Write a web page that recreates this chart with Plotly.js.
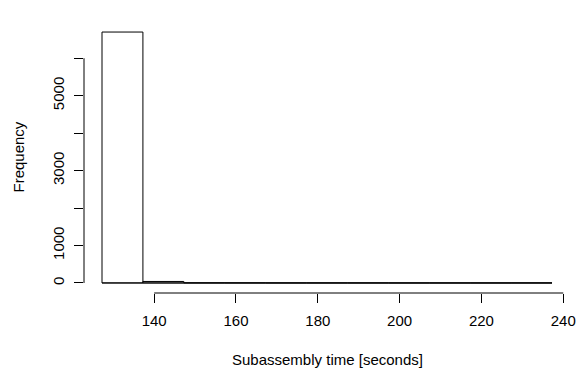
<!DOCTYPE html>
<html>
<head>
<script src="https://cdn.plot.ly/plotly-3.0.1.min.js"></script>
<style>body{margin:0;padding:0;background:#fff;}#chart{width:582px;height:371px;}</style>
</head>
<body>
<div id="chart"></div>
<script>
// Histogram data (bins of width 10)
var binStarts = [127.25, 137.25, 147.25, 157.25, 167.25, 177.25, 187.25, 197.25, 207.25, 217.25, 227.25];
var binWidth = 10;
var counts = [6700, 40, 3, 2, 1, 1, 1, 0, 0, 0, 1];
var xTicks = [140, 160, 180, 200, 220, 240];
var yTicks = [0, 1000, 2000, 3000, 4000, 5000, 6000];
var yTickLabels = ['0', '1000', '', '3000', '', '5000', ''];

var centers = binStarts.map(function(s){ return s + binWidth / 2; });

var trace = {
  type: 'bar',
  x: centers,
  y: counts,
  width: binWidth,
  marker: {color: '#ffffff', line: {color: '#000000', width: 1}},
  hoverinfo: 'none'
};

var font = {family: 'Liberation Sans, Arial, sans-serif', size: 15, color: '#000'};

var layout = {
  width: 582, height: 371,
  margin: {l: 84, r: 12, t: 22, b: 78},
  paper_bgcolor: '#fff', plot_bgcolor: '#fff',
  showlegend: false,
  bargap: 0,
  font: font,
  xaxis: {
    range: [122.85, 241.65],
    tickvals: xTicks,
    ticktext: xTicks.map(String),
    ticks: 'outside', ticklen: 9, tickwidth: 1, tickcolor: '#000',
    showgrid: false, zeroline: false, showline: false,
    ticklabelstandoff: 5,
    tickfont: font
  },
  yaxis: {
    range: [-268, 6968],
    tickvals: yTicks,
    ticktext: yTickLabels,
    tickangle: -90,
    ticks: 'outside', ticklen: 9, tickwidth: 1, tickcolor: '#000',
    showgrid: false, zeroline: false, showline: false,
    ticklabelstandoff: 4,
    tickfont: font
  },
  shapes: [
    {type: 'line', xref: 'x', yref: 'paper', x0: xTicks[0], x1: xTicks[xTicks.length-1], y0: 0, y1: 0, line: {color: '#000', width: 1}},
    {type: 'line', xref: 'paper', yref: 'y', x0: 0, x1: 0, y0: yTicks[0], y1: yTicks[yTicks.length-1], line: {color: '#000', width: 1}},
    {type: 'line', xref: 'x', yref: 'y', x0: binStarts[0], x1: binStarts[binStarts.length-1] + binWidth, y0: 0, y1: 0, line: {color: '#000', width: 1}}
  ],
  annotations: [
    {text: 'Subassembly time [seconds]', xref: 'paper', yref: 'paper', x: 0.5, y: 0, yshift: -66, showarrow: false, font: font, xanchor: 'center', yanchor: 'middle'},
    {text: 'Frequency', xref: 'paper', yref: 'paper', x: 0, y: 0.5, xshift: -66, showarrow: false, font: font, textangle: -90, xanchor: 'center', yanchor: 'middle'}
  ]
};

Plotly.newPlot('chart', [trace], layout, {displayModeBar: false, staticPlot: true});
</script>
</body>
</html>
